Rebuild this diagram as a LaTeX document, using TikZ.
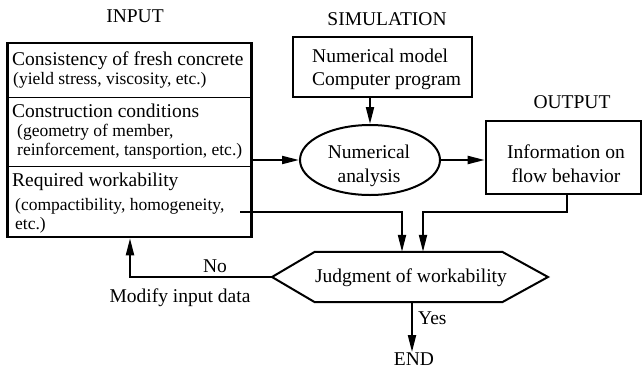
\documentclass[tikz,border=0pt]{standalone}
\usepackage{fontspec}
\setmainfont{Liberation Serif}
\usetikzlibrary{arrows.meta,shapes.geometric,calc}

\begin{document}
\begin{tikzpicture}[x=1pt,y=-1pt,
  big/.style={font=\fontsize{19.5}{22}\selectfont, inner sep=0pt},
  small/.style={font=\fontsize{17.5}{20}\selectfont, inner sep=0pt},
  frame/.style={draw, line width=2.6pt, inner sep=0pt},
  divider/.style={line width=0.9pt},
  link/.style={line width=2pt},
  tip/.style={-{Triangle[length=17pt,width=8pt]}}
]
\useasboundingbox (0,0) rectangle (643,370);

% headings
\node[big, anchor=base] (hin)  at (135,22)  {INPUT};
\node[big, anchor=base] (hsim) at (387,25)  {SIMULATION};
\node[big, anchor=base] (hout) at (572,108) {OUTPUT};

% input block with three sections
\node[frame, minimum width=244pt, minimum height=194pt] (inbox) at (129.5,140) {};
\coordinate (d1) at (7,97);
\coordinate (d2) at (7,166);
\draw[divider] (d1) -- (d1 -| inbox.east);
\draw[divider] (d2) -- (d2 -| inbox.east);

\node[big,   anchor=base west] (t1a) at (12,65)  {Consistency of fresh concrete};
\node[small, anchor=base west] (t1b) at (13,84)  {(yield stress, viscosity, etc.)};
\node[big,   anchor=base west] (t2a) at (12,117) {Construction conditions};
\node[small, anchor=base west] (t2b) at (17,136) {(geometry of member,};
\node[small, anchor=base west] (t2c) at (17,155) {reinforcement, tansportion, etc.)};
\node[big,   anchor=base west] (t3a) at (12,186) {Required workability};
\node[small, anchor=base west] (t3b) at (15,210) {(compactibility, homogeneity,};
\node[small, anchor=base west] (t3c) at (15,229) {etc.)};

% simulation
\node[frame, minimum width=179pt, minimum height=60pt] (simbox) at (382.5,67) {};
\node[big, anchor=base west] (s1) at (312,62) {Numerical model};
\node[big, anchor=base west] (s2) at (312,85) {Computer program};

\node[draw, ellipse, line width=2pt, minimum width=140pt, minimum height=70pt, inner sep=0pt] (ana) at (370,160) {};
\node[big, anchor=base] (a1) at (369,158) {Numerical};
\node[big, anchor=base] (a2) at (369,182) {analysis};

% output
\node[frame, minimum width=155pt, minimum height=73pt] (outbox) at (563.5,157.5) {};
\node[big, anchor=base] (o1) at (566,158) {Information on};
\node[big, anchor=base] (o2) at (566,182) {flow behavior};

% judgment
\node[minimum width=187pt, minimum height=50pt, inner sep=0pt] (judge) at (408.5,277) {};
\coordinate (jl) at (272,277);
\coordinate (jr) at (548,277);
\draw[line width=2pt, line join=miter]
  (jl) -- (judge.north west) -- (judge.north east) -- (jr)
  -- (judge.south east) -- (judge.south west) -- cycle;
\node[big, anchor=base] (jt) at (411,282) {Judgment of workability};

% labels
\node[big, anchor=base] (lno)  at (215,272) {No};
\node[big, anchor=base] (lmod) at (180,302) {Modify input data};
\node[big, anchor=base west] (lyes) at (418,324) {Yes};
\node[big, anchor=base] (lend) at (414,365) {END};

% connectors
\coordinate (w1) at (240,212);
\coordinate (w2) at (567,212);
\draw[link, tip] (simbox.south -| ana.north) -- (ana.north);
\draw[link, tip] (inbox.east |- ana.west) -- (ana.west);
\draw[link, tip] (ana.east) -- (outbox.west |- ana.east);
\draw[link, tip] (w1) -| ($(judge.north)+(-6.5,0)$);
\draw[link, tip] (w2 |- outbox.south) -- (w2) -| ($(judge.north)+(14.5,0)$);
\draw[link, tip] (jl) -| (inbox.south -| 130,0);
\draw[link, tip] (judge.south -| 412,0) -- (lend.north -| 412,0);
\end{tikzpicture}
\end{document}
